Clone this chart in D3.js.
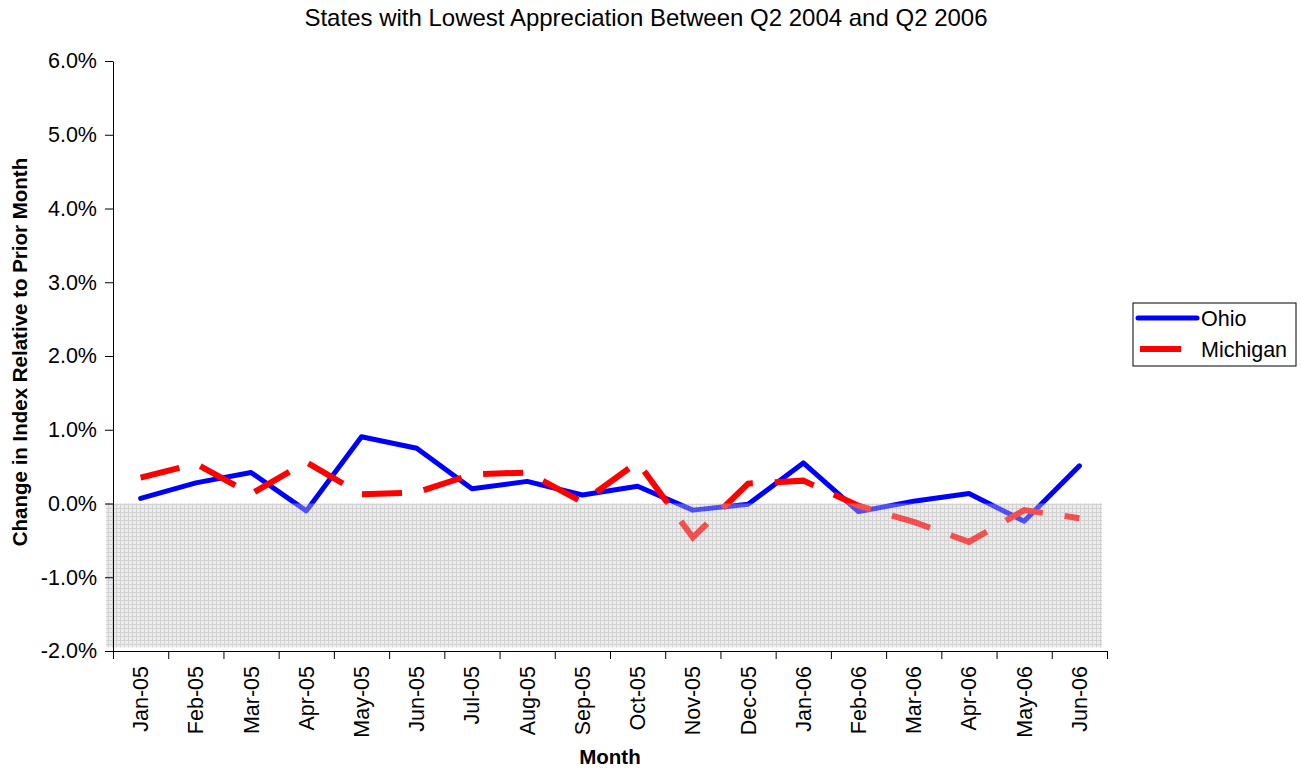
<!DOCTYPE html>
<html>
<head>
<meta charset="utf-8">
<script src="https://cdn.jsdelivr.net/npm/d3@7"></script>
<style>
    body { margin: 0; background: #fff; }
    svg { display: block; font-family: "Liberation Sans", Arial, sans-serif; }
</style>
</head>
<body>
<svg id="chart" width="1301" height="768"></svg>
<script>
const months = ['Jan-05', 'Feb-05', 'Mar-05', 'Apr-05', 'May-05', 'Jun-05', 'Jul-05', 'Aug-05', 'Sep-05',
    'Oct-05', 'Nov-05', 'Dec-05', 'Jan-06', 'Feb-06', 'Mar-06', 'Apr-06', 'May-06', 'Jun-06']

// monthly change, in percent
const ohio = [0.07, 0.28, 0.42, -0.10, 0.905, 0.75, 0.20, 0.30, 0.115,
    0.235, -0.09, -0.01, 0.55, -0.11, 0.03, 0.135, -0.24, 0.51]
const michigan = [0.35, 0.54, 0.13, 0.56, 0.125, 0.15, 0.395, 0.42, 0.02,
    0.56, -0.46, 0.27, 0.31, -0.03, -0.25, -0.52, -0.09, -0.20]

const yTicks = [-2, -1, 0, 1, 2, 3, 4, 5, 6]

// shaded band below zero
const shade = [0, -1.95]

const series = [
    { name: 'Ohio', values: ohio, color: '#0000ff', width: 5, dash: null },
    { name: 'Michigan', values: michigan, color: '#ff0000', width: 6, dash: '40,22' }
]

const plot = { left: 113, right: 1107, top: 61, bottom: 651 }
const fontSize = 21.5

const svg = d3.select('#chart')

const x = d3.scaleBand()
    .domain(months)
    .range([plot.left, plot.right])

const xEdge = d3.scaleLinear()
    .domain([0, months.length])
    .range([plot.left, plot.right])

const y = d3.scaleLinear()
    .domain([-2, 6])
    .range([plot.bottom, plot.top])

// grid-like fill pattern for the negative band
const defs = svg.append('defs')
const pattern = defs.append('pattern')
    .attr('id', 'grid')
    .attr('width', 4)
    .attr('height', 4)
    .attr('patternUnits', 'userSpaceOnUse')
pattern.append('rect')
    .attr('width', 4).attr('height', 4)
    .attr('fill', '#ececec')
pattern.append('path')
    .attr('d', 'M0,0.5H4M0.5,0V4')
    .attr('stroke', '#d2d2d2')
    .attr('stroke-width', 1)

const shadeBox = {
    x: 106,
    y: y(shade[0]),
    width: 1102 - 106,
    height: y(shade[1]) - y(shade[0])
}

svg.append('rect')
    .attr('class', 'shade')
    .attr('x', shadeBox.x).attr('y', shadeBox.y)
    .attr('width', shadeBox.width).attr('height', shadeBox.height)
    .attr('fill', 'url(#grid)')

const line = d3.line()
    .x((d, i) => x(months[i]) + x.bandwidth() / 2)
    .y((d) => y(d))

svg.selectAll('.series')
    .data(series)
    .enter().append('path')
    .attr('class', 'series')
    .attr('d', (d) => line(d.values))
    .attr('fill', 'none')
    .attr('stroke', (d) => d.color)
    .attr('stroke-width', (d) => d.width)
    .attr('stroke-dasharray', (d) => d.dash)
    .attr('stroke-linejoin', (d) => d.dash ? 'miter' : 'round')
    .attr('stroke-linecap', (d) => d.dash ? 'butt' : 'round')

// the band sits partly over the lines
svg.append('rect')
    .attr('x', shadeBox.x).attr('y', shadeBox.y)
    .attr('width', shadeBox.width).attr('height', shadeBox.height)
    .attr('fill', 'url(#grid)')
    .attr('opacity', 0.35)

// y axis
const yAxis = svg.append('g')
    .attr('transform', `translate(${plot.left},0)`)
    .call(d3.axisLeft(y)
        .tickValues(yTicks)
        .tickFormat((d) => d.toFixed(1) + '%')
        .tickSize(8)
        .tickPadding(8)
        .tickSizeOuter(0))
yAxis.select('.domain').attr('stroke', '#000')
yAxis.selectAll('text')
    .attr('font-size', fontSize)
    .attr('font-family', null)
    .attr('fill', '#000')

// x axis: ticks on category edges, labels in the middle
const xAxis = svg.append('g')
    .attr('transform', `translate(0,${plot.bottom})`)
    .call(d3.axisBottom(xEdge)
        .tickValues(d3.range(months.length + 1))
        .tickFormat('')
        .tickSize(8)
        .tickSizeOuter(0))
xAxis.select('.domain').attr('stroke', '#000')

svg.append('g')
    .selectAll('text')
    .data(months)
    .enter().append('text')
    .attr('transform', (d) => `translate(${x(d) + x.bandwidth() / 2},666) rotate(-90)`)
    .attr('text-anchor', 'end')
    .attr('dy', '0.35em')
    .attr('font-size', fontSize)
    .text((d) => d)

// titles
svg.append('text')
    .attr('x', 646)
    .attr('y', 26)
    .attr('text-anchor', 'middle')
    .attr('font-size', 24)
    .text('States with Lowest Appreciation Between Q2 2004 and Q2 2006')

svg.append('text')
    .attr('x', (plot.left + plot.right) / 2)
    .attr('y', 764)
    .attr('text-anchor', 'middle')
    .attr('font-size', 20.5)
    .attr('font-weight', 'bold')
    .text('Month')

svg.append('text')
    .attr('transform', 'translate(27,352) rotate(-90)')
    .attr('text-anchor', 'middle')
    .attr('font-size', 20.5)
    .attr('font-weight', 'bold')
    .text('Change in Index Relative to Prior Month')

// legend
const legend = svg.append('g')
    .attr('transform', 'translate(1133,303)')

legend.append('rect')
    .attr('width', 163)
    .attr('height', 63)
    .attr('fill', '#fff')
    .attr('stroke', '#000')
    .attr('stroke-width', 1)

const items = legend.selectAll('.item')
    .data(series)
    .enter().append('g')
    .attr('class', 'item')
    .attr('transform', (d, i) => `translate(0,${15 + i * 31})`)

items.append('line')
    .attr('x1', (d) => d.dash ? 7 : 5)
    .attr('x2', (d) => d.dash ? 48 : 64)
    .attr('stroke', (d) => d.color)
    .attr('stroke-width', (d) => d.width)
    .attr('stroke-linecap', (d) => d.dash ? 'butt' : 'round')

items.append('text')
    .attr('x', 68)
    .attr('y', 8)
    .attr('font-size', fontSize)
    .text((d) => d.name)
</script>
</body>
</html>
